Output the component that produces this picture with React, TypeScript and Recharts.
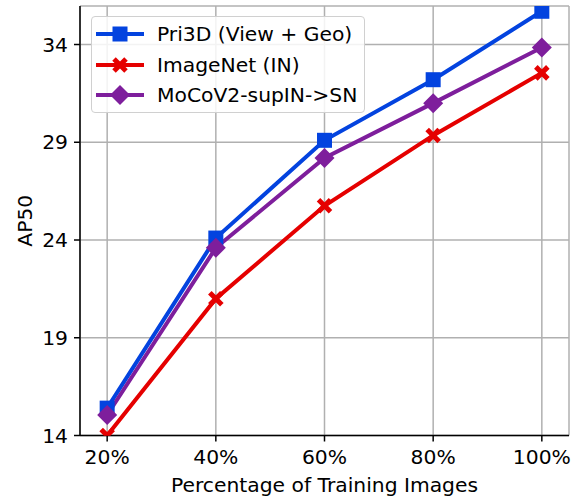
import React from 'react';
import { LineChart, Line, XAxis, YAxis, CartesianGrid, Legend, Label } from 'recharts';

const percentages = [20, 40, 60, 80, 100];
const xTickLabels = ['20%', '40%', '60%', '80%', '100%'];
const yTicks = [14, 19, 24, 29, 34];
const pri3d = [15.4, 24.1, 29.1, 32.2, 35.7];
const imagenet = [14.0, 21.0, 25.75, 29.35, 32.55];
const moco = [15.05, 23.6, 28.2, 31.0, 33.85];
const seriesNames = ['Pri3D (View + Geo)', 'ImageNet (IN)', 'MoCoV2-supIN->SN'];

const COLORS: Record<string, string> = { pri3d: '#0343df', imagenet: '#e50000', moco: '#7e1e9c' };
const FONT = 'DejaVu Sans, sans-serif';
const FS = 20.3;

const data = percentages.map((p, i) => ({ pct: p, pri3d: pri3d[i], imagenet: imagenet[i], moco: moco[i] }));

function MarkerShape({ kind, cx, cy, color }: { kind: string; cx: number; cy: number; color: string }) {
  if (kind === 'pri3d') {
    return <rect x={cx - 7.5} y={cy - 7.5} width={15} height={15} fill={color} />;
  }
  if (kind === 'moco') {
    const r = 10;
    return <polygon points={`${cx},${cy - r} ${cx + r},${cy} ${cx},${cy + r} ${cx - r},${cy}`} fill={color} />;
  }
  const d = 6;
  return (
    <g>
      <line x1={cx - d} y1={cy - d} x2={cx + d} y2={cy + d} stroke={color} strokeWidth={5} />
      <line x1={cx - d} y1={cy + d} x2={cx + d} y2={cy - d} stroke={color} strokeWidth={5} />
    </g>
  );
}

const makeDot = (kind: string) => (props: any) => {
  const { cx, cy, index } = props;
  return <MarkerShape key={`${kind}-${index}`} kind={kind} cx={cx} cy={cy} color={COLORS[kind]} />;
};

const renderLegend = (props: any) => {
  const payload = [...(props.payload || [])].sort(
    (a: any, b: any) => seriesNames.indexOf(a.value) - seriesNames.indexOf(b.value)
  );
  return (
    <div
      style={{
        width: 274,
        height: 97,
        border: '1px solid #d0d0d0',
        borderRadius: 4,
        background: 'rgba(255,255,255,0.85)',
        paddingTop: 2,
        boxSizing: 'border-box',
      }}
    >
      {payload.map((entry: any) => (
        <div key={entry.dataKey} style={{ display: 'flex', alignItems: 'center', height: 30.5 }}>
          <svg width={48} height={30} style={{ marginLeft: 4, flexShrink: 0 }}>
            <line x1={0} y1={15} x2={48} y2={15} stroke={COLORS[entry.dataKey]} strokeWidth={4} />
            <MarkerShape kind={entry.dataKey} cx={24} cy={15} color={COLORS[entry.dataKey]} />
          </svg>
          <span style={{ marginLeft: 13, fontFamily: FONT, fontSize: FS, color: '#000', whiteSpace: 'nowrap' }}>
            {entry.value}
          </span>
        </div>
      ))}
    </div>
  );
};

export default function App() {
  return (
    <div style={{ position: 'absolute', left: 0, top: 0 }}>
      <LineChart width={577} height={498} data={data} margin={{ top: 6, right: 8, left: 0, bottom: 0 }}>
        <CartesianGrid stroke="#b0b0b0" strokeWidth={1.5} />
        <XAxis
          dataKey="pct"
          type="number"
          domain={[15, 105]}
          ticks={percentages}
          tickFormatter={(v: number) => xTickLabels[percentages.indexOf(v)]}
          height={62.5}
          tickSize={6}
          tickMargin={8}
          stroke="#000"
          strokeWidth={1.5}
          tick={{ fill: '#000', fontSize: FS, fontFamily: FONT }}
          allowDataOverflow
        >
          <Label
            value="Percentage of Training Images"
            position="insideBottom"
            offset={6}
            style={{ fill: '#000', fontSize: FS, fontFamily: FONT }}
          />
        </XAxis>
        <XAxis xAxisId="top" dataKey="pct" type="number" domain={[15, 105]} orientation="top" height={0} tick={false} tickLine={false} stroke="#000" strokeWidth={1.5} allowDataOverflow />
        <YAxis
          type="number"
          domain={[14, 35.97]}
          ticks={yTicks}
          width={80}
          tickSize={6}
          tickMargin={6}
          stroke="#000"
          strokeWidth={1.5}
          tick={{ fill: '#000', fontSize: FS, fontFamily: FONT }}
          allowDataOverflow
        >
          <Label
            value="AP50"
            angle={-90}
            position="insideLeft"
            offset={25}
            style={{ fill: '#000', fontSize: FS, fontFamily: FONT, textAnchor: 'middle' }}
          />
        </YAxis>
        <YAxis yAxisId="right" type="number" domain={[14, 35.97]} orientation="right" width={0} tick={false} tickLine={false} stroke="#000" strokeWidth={1.5} allowDataOverflow />
        <Line dataKey="pri3d" name={seriesNames[0]} stroke={COLORS.pri3d} strokeWidth={4} dot={makeDot('pri3d')} activeDot={false} isAnimationActive={false} />
        <Line dataKey="imagenet" name={seriesNames[1]} stroke={COLORS.imagenet} strokeWidth={4} dot={makeDot('imagenet')} activeDot={false} isAnimationActive={false} />
        <Line dataKey="moco" name={seriesNames[2]} stroke={COLORS.moco} strokeWidth={4} dot={makeDot('moco')} activeDot={false} isAnimationActive={false} />
        <Legend
          layout="vertical"
          align="center"
          verticalAlign="middle"
          content={renderLegend}
          wrapperStyle={{ left: 91, top: 16, width: 274, height: 97 }}
        />
      </LineChart>
    </div>
  );
}
